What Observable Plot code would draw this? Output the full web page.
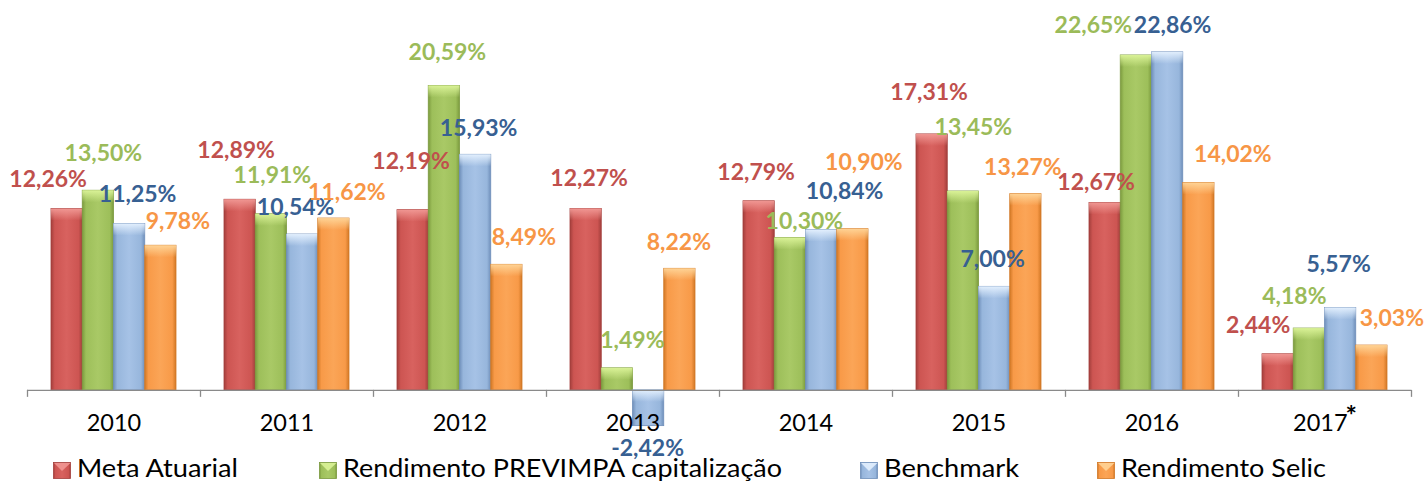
<!DOCTYPE html>
<html><head><meta charset="utf-8">
<script src="https://cdn.jsdelivr.net/npm/d3@7"></script>
<script src="https://cdn.jsdelivr.net/npm/@observablehq/plot@0.6"></script>
<style>
html,body{margin:0;padding:0;background:#fff;}
#wrap{position:relative;width:1424px;height:482px;overflow:hidden;background:#fff;}
#wrap svg{position:absolute;left:0;top:0;}
</style></head><body><div id="wrap"></div>
<script>
// ---- data ----
const years = ["2010","2011","2012","2013","2014","2015","2016","2017*"];
const seriesNames = ["Meta Atuarial","Rendimento PREVIMPA capitalização","Benchmark","Rendimento Selic"];
const metaAtuarial = [12.26,12.89,12.19,12.27,12.79,17.31,12.67,2.44];
const previmpa     = [13.50,11.91,20.59,1.49,10.30,13.45,22.65,4.18];
const benchmark    = [11.25,10.54,15.93,-2.42,10.84,7.00,22.86,5.57];
const selic        = [9.78,11.62,8.49,8.22,10.90,13.27,14.02,3.03];

// ---- styling / layout (not data) ----
const barColors   = [["#A33F3C","#CD5552","#D8625F"],["#7B9A3E","#9DBF5A","#A9C966"],["#6F8FBA","#97B6DC","#A6C2E6"],["#D27826","#F89A48","#FBA557"]];
const tintColors  = ["#F29A96","#DDF59A","#E6F2FF","#FFD699"];
const labelColors = ["#C0504D","#9BBB59","#376092","#F79646"];
// label nudges in px (dx, dy) relative to bar end
const labelShift = [
  [[-19,-29],[-4,-49],[-2,-48],[3,-30],[-3,-29],[-3,-42],[-9,-20],[-20,-29]],
  [[5,-37],[1,-39],[3,-33],[15,-28],[14,-16],[10,-64],[-43,-30],[-15,-32]],
  [[8,-29],[-7,-27],[3,-26],[-1,22],[23,-38],[-2,-27],[5,-27],[-2,-43]],
  [[17,-24],[13,-26],[17,-27],[-1,-26],[11,-67],[-3,-27],[34,-28],[20,-27]]
];
const W = 1424, H = 482, mL = 27, mR = 13, mT = 35, mB = 33;
const yDom = [-4, 24];
const xPx = (W - mL - mR) / years.length;
const yPx = (H - mT - mB) / (yDom[1] - yDom[0]);
const groupPad = 24 / xPx, barW = 31.25 / xPx;

const allSeries = [metaAtuarial, previmpa, benchmark, selic];
const rows = [];
allSeries.forEach((vals, s) => vals.forEach((v, i) => {
  const x1 = i + groupPad + s * barW;
  rows.push({s, i, v, x1, x2: x1 + barW, top: Math.max(v, 0), bot: Math.min(v, 0)});
}));
const fmt = v => v.toFixed(2).replace(".", ",") + "%";

const marks = [];
for (let s = 0; s < 4; s++) {
  const data = rows.filter(d => d.s === s);
  marks.push(Plot.rectY(data, {x1: "x1", x2: "x2", y1: "bot", y2: "top", fill: `url(#bar${s})`, stroke: barColors[s][0], strokeWidth: 0.8, ariaLabel: "bars"}));
  marks.push(Plot.rectY(data, {x1: "x1", x2: "x2", y1: d => d.top - 12 / yPx, y2: "top", fill: `url(#hl${s})`, ariaLabel: "bevel"}));
}
marks.push(Plot.ruleY([0], {x1: 0, x2: years.length, stroke: "#8a8a8a", strokeWidth: 1.3}));
marks.push(Plot.ruleX(d3.range(years.length + 1), {y1: 0, y2: -7 / yPx, stroke: "#8a8a8a", strokeWidth: 1.3}));
marks.push(Plot.text(years, {x: (d, i) => i + 0.5, y: 0, dy: 33, text: d => d, fill: "#000", fontSize: 23.5, fontFamily: "Lato"}));
for (let s = 0; s < 4; s++) {
  const data = rows.filter(d => d.s === s);
  marks.push(Plot.text(data, {
    x: d => (d.x1 + d.x2) / 2 + labelShift[s][d.i][0] / xPx,
    y: d => d.v - labelShift[s][d.i][1] / yPx,
    text: d => fmt(d.v), fill: labelColors[s], fontSize: 23, fontWeight: "bold", fontFamily: "Lato"
  }));
}

const chart = Plot.plot({
  width: W, height: H, marginLeft: mL, marginRight: mR, marginTop: mT, marginBottom: mB,
  x: {domain: [0, years.length], axis: null},
  y: {domain: yDom, axis: null},
  style: {fontFamily: "Lato", background: "transparent", overflow: "visible"},
  marks
});

// gradients & shadow
const svg = d3.select(chart);
const defs = svg.insert("defs", ":first-child");
barColors.forEach((c, s) => {
  const g = defs.append("linearGradient").attr("id", `bar${s}`).attr("x1", 0).attr("x2", 1).attr("y1", 0).attr("y2", 0);
  [[0, c[0]], [0.12, c[1]], [0.5, c[2]], [0.88, c[1]], [1, c[0]]].forEach(([o, col]) => g.append("stop").attr("offset", o).attr("stop-color", col));
  const h = defs.append("linearGradient").attr("id", `hl${s}`).attr("x1", 0).attr("x2", 0).attr("y1", 0).attr("y2", 1);
  h.append("stop").attr("offset", 0).attr("stop-color", tintColors[s]).attr("stop-opacity", 0.95);
  h.append("stop").attr("offset", 1).attr("stop-color", tintColors[s]).attr("stop-opacity", 0);
});
const f = defs.append("filter").attr("id", "shadow").attr("x", "-30%").attr("y", "-10%").attr("width", "160%").attr("height", "130%");
f.append("feDropShadow").attr("dx", 1.5).attr("dy", 3).attr("stdDeviation", 2.2).attr("flood-color", "#000").attr("flood-opacity", 0.35);
svg.selectAll("g[aria-label='bars']").attr("filter", "url(#shadow)");

// superscript asterisk on 2017*
svg.selectAll("text").filter(function() { return this.textContent === "2017*"; }).each(function() {
  const t = d3.select(this);
  t.text("2017");
  t.append("tspan").attr("dx", "-2").attr("dy", "-0.22em").attr("font-size", "27px").attr("font-weight", "bold").text("*");
});
document.getElementById("wrap").appendChild(chart);

// legend (overlaid at bottom)
const legendX = [53, 319, 860, 1097];
const legendTextLen = [161, 439, 135, 205];
const lg = d3.select("#wrap").append("svg").attr("width", W).attr("height", 32).style("top", "450px");
seriesNames.forEach((name, s) => {
  const g = lg.append("g").attr("transform", `translate(${legendX[s]},0)`);
  g.append("rect").attr("x", 0.5).attr("y", 12.5).attr("width", 17).attr("height", 16).attr("fill", `url(#bar${s})`).attr("stroke", barColors[s][0]).attr("stroke-width", 0.8);
  g.append("path").attr("d", "M1,13 L17.5,13 L9,21 Z").attr("fill", tintColors[s]).attr("opacity", 0.85);
  g.append("text").attr("x", 24).attr("y", 27).attr("font-family", "Lato").attr("font-size", 25).attr("fill", "#000")
    .attr("textLength", legendTextLen[s]).attr("lengthAdjust", "spacingAndGlyphs").text(name);
});
</script></body></html>
